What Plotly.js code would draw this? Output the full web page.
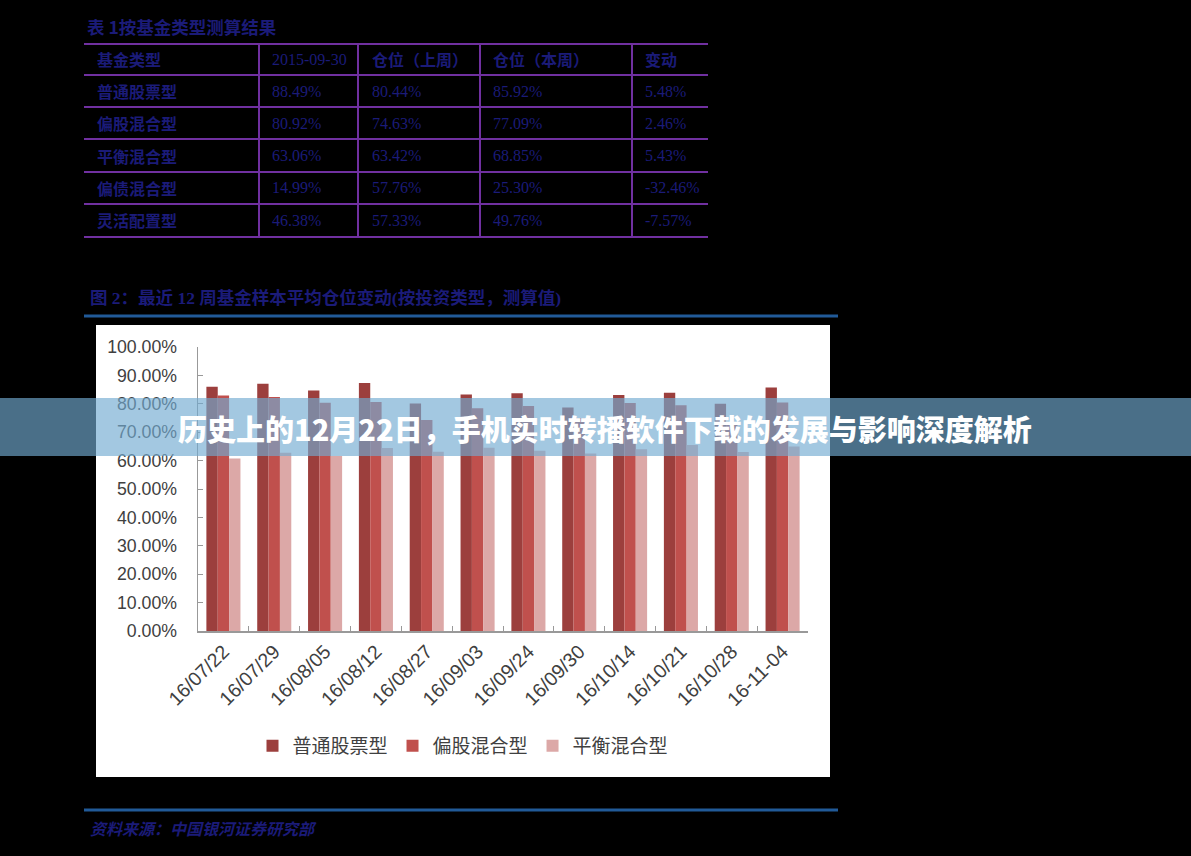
<!DOCTYPE html>
<html>
<head>
<meta charset="utf-8">
<script src="https://cdn.plot.ly/plotly-3.0.1.min.js"></script>
<style>
  html, body { margin: 0; padding: 0; background: #000; }
  #chart { width: 1191px; height: 856px; }
</style>
</head>
<body>
<div id="chart"></div>
<script>
// ---------- data ----------
const dates = ['16/07/22','16/07/29','16/08/05','16/08/12','16/08/27','16/09/03','16/09/24','16/09/30','16/10/14','16/10/21','16/10/28','16-11-04'];
const stockFund    = [0.860, 0.871, 0.847, 0.873, 0.801, 0.833, 0.837, 0.787, 0.831, 0.839, 0.800, 0.857];
const partialStock = [0.829, 0.824, 0.804, 0.806, 0.743, 0.784, 0.792, 0.750, 0.803, 0.795, 0.735, 0.805];
const balancedMix  = [0.607, 0.628, 0.616, 0.644, 0.631, 0.645, 0.635, 0.625, 0.640, 0.655, 0.630, 0.650];
const seriesNames = ['普通股票型', '偏股混合型', '平衡混合型'];

const tableHeader = ['基金类型', '2015-09-30', '仓位（上周）', '仓位（本周）', '变动'];
const tableTypes  = ['普通股票型', '偏股混合型', '平衡混合型', '偏债混合型', '灵活配置型'];
const col20150930 = ['88.49%', '80.92%', '63.06%', '14.99%', '46.38%'];
const colLastWeek = ['80.44%', '74.63%', '63.42%', '57.76%', '57.33%'];
const colThisWeek = ['85.92%', '77.09%', '68.85%', '25.30%', '49.76%'];
const colChange   = ['5.48%', '2.46%', '5.43%', '-32.46%', '-7.57%'];

const tableTitle = '表 1按基金类型测算结果';
const figTitle = '图 2：最近 12 周基金样本平均仓位变动(按投资类型，测算值)';
const sourceText = '资料来源：中国银河证券研究部';
const bannerText = '历史上的12月22日，手机实时转播软件下载的发展与影响深度解析';

// ---------- helpers ----------
const W = 1191, H = 856;
const px = x => x / W;
const py = y => 1 - y / H;

const navy = '#1b1b78';
const purple = '#7030a0';
const blueLine = '#215a98';

const shapes = [];
const annotations = [];

// white chart card
shapes.push({type:'rect', xref:'paper', yref:'paper', x0:px(96), x1:px(830), y0:py(777), y1:py(325),
  fillcolor:'#ffffff', line:{width:0}, layer:'below'});

// table lines
const hLines = [44, 75, 107, 139, 172, 204, 237];
const vLines = [259, 358, 480, 632];
hLines.forEach(y => shapes.push({type:'line', xref:'paper', yref:'paper', x0:px(84), x1:px(708), y0:py(y), y1:py(y),
  line:{color:purple, width:2}}));
vLines.forEach(x => shapes.push({type:'line', xref:'paper', yref:'paper', x0:px(x), x1:px(x), y0:py(44), y1:py(237),
  line:{color:purple, width:2}}));

// table text
const colX = [95, 270, 370, 491, 643];
const rowY = [59.5, 91, 123, 155.5, 188, 220.5];
const cjkFont = {family:'Noto Sans CJK SC', size:16, color:navy, weight:700};
const numFont = {family:'Liberation Serif, Noto Sans CJK SC', size:16, color:navy};
function addText(txt, x, y, font) {
  annotations.push({text:txt, xref:'paper', yref:'paper', x:px(x), y:py(y), xanchor:'left', yanchor:'middle',
    showarrow:false, font:font});
}
tableHeader.forEach((h, i) => addText(h, colX[i], rowY[0], i === 1 ? numFont : cjkFont));
const cols = [tableTypes, col20150930, colLastWeek, colThisWeek, colChange];
cols.forEach((col, ci) => col.forEach((v, ri) => addText(v, colX[ci], rowY[ri + 1], ci === 0 ? cjkFont : numFont)));

// titles
addText(tableTitle, 85, 27, {family:'Noto Sans CJK SC', size:17.5, color:navy, weight:700});
addText(figTitle, 88, 298, {family:'Liberation Serif, Noto Sans CJK SC', size:17.5, color:navy, weight:700});
shapes.push({type:'line', xref:'paper', yref:'paper', x0:px(84), x1:px(838), y0:py(316), y1:py(316),
  line:{color:blueLine, width:3}});
shapes.push({type:'line', xref:'paper', yref:'paper', x0:px(84), x1:px(838), y0:py(810), y1:py(810),
  line:{color:blueLine, width:3}});
addText(sourceText, 88, 828, {family:'Noto Sans CJK SC', size:16, color:navy, style:'italic', weight:700});

// banner
shapes.push({type:'rect', xref:'paper', yref:'paper', x0:0, x1:1, y0:py(456), y1:py(398),
  fillcolor:'rgba(114,171,209,0.65)', line:{width:0}, layer:'above'});
annotations.push({text:bannerText, xref:'paper', yref:'paper', x:px(605), y:py(428), xanchor:'center', yanchor:'middle',
  showarrow:false, font:{family:'Noto Sans CJK SC', size:29, color:'#ffffff', weight:900}});

// ---------- traces ----------
const colors = ['#9c3f3d', '#c0504d', '#dca8a7'];
const seriesVals = [stockFund, partialStock, balancedMix];
const traces = seriesVals.map((vals, i) => ({
  type:'bar', x:dates, y:vals, name:seriesNames[i],
  marker:{color:colors[i], line:{width:0}}, hoverinfo:'none'
}));

const yFont = {family:'Liberation Sans, Arial, sans-serif', size:17.7, color:'#404040'};
const xFont = {family:'Liberation Sans, Arial, sans-serif', size:19.5, color:'#404040'};

const layout = {
  width:W, height:H, autosize:false,
  margin:{l:0, r:0, t:0, b:0},
  paper_bgcolor:'#000000',
  plot_bgcolor:'rgba(0,0,0,0)',
  barmode:'group',
  bargap:0.33,
  bargroupgap:0,
  showlegend:true,
  legend:{orientation:'h', x:px(463), xanchor:'center', y:py(746), yanchor:'middle',
    font:{family:'Noto Sans CJK SC', size:19, color:'#404040'}, bgcolor:'rgba(0,0,0,0)', traceorder:'normal'},
  xaxis:{domain:[px(198), px(808)], type:'category', showline:true, linecolor:'#999999', linewidth:1.5,
    ticks:'inside', tickson:'boundaries', ticklen:5, tickcolor:'#999999', tickangle:-45,
    tickfont:xFont, showgrid:false, zeroline:false, fixedrange:true},
  yaxis:{domain:[py(631), py(347)], range:[0, 1], dtick:0.1, tickformat:'.2%', showline:true, linecolor:'#999999',
    linewidth:1.5, ticks:'inside', ticklen:5, tickcolor:'#999999', tickfont:yFont, ticklabelstandoff:16,
    showgrid:false, zeroline:false, fixedrange:true},
  shapes:shapes,
  annotations:annotations
};

Plotly.newPlot('chart', traces, layout, {displayModeBar:false, staticPlot:true});
</script>
</body>
</html>
